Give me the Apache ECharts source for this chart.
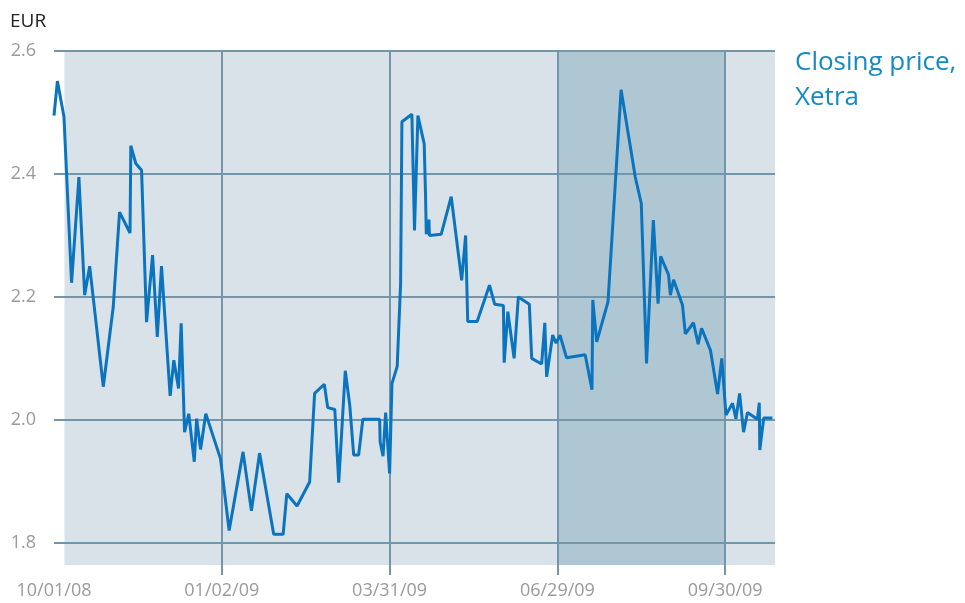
<!DOCTYPE html>
<html>
<head>
<meta charset="utf-8">
<script src="https://cdn.jsdelivr.net/npm/echarts@6/dist/echarts.min.js"></script>
<style>
  html, body { margin: 0; padding: 0; background: #fff; }
  #chart { width: 965px; height: 603px; }
</style>
</head>
<body>
<div id="chart"></div>
<script>
// trading-day index (64 per quarter) and Xetra closing prices in EUR
const dayIndex = [
  0, 1.3, 3.8, 6.7, 9.5, 11.7, 13.6, 18.8, 22.6, 25.0, 29.0, 29.3, 31.2, 33.4, 35.3, 37.6, 39.4, 41.0,
  44.3, 45.7, 47.5, 48.5, 49.8, 51.4, 53.5, 54.4, 55.9, 57.9, 63.5, 66.8, 72.1, 75.3, 78.4, 83.8, 87.4,
  88.8, 92.7, 97.5, 99.4, 103.1, 104.4, 107.1, 108.6, 111.1, 112.8, 114.3, 116.2, 117.8, 124.2, 124.4,
  125.5, 126.5, 128.0, 128.9, 130.9, 132.2, 132.7, 136.5, 137.5, 138.8, 141.2, 141.7, 142.0, 143.0,
  143.2, 147.7, 151.5, 155.5, 157.0, 157.8, 161.4, 166.1, 168.1, 171.4, 171.7, 173.1, 175.5, 177.1,
  181.3, 182.2, 186.0, 187.2, 187.9, 190.2, 191.5, 193.0, 195.5, 202.6, 205.2, 205.5, 207.0, 211.3,
  216.3, 221.7, 224.0, 226.0, 228.6, 230.4, 231.4, 234.4, 235.1, 236.3, 239.7, 240.8, 243.9, 245.7,
  247.0, 250.4, 253.1, 254.7, 256.3, 258.8, 260.1, 261.5, 263.0, 264.5, 268.3, 269.0, 269.2, 270.7, 274.0
];
const closingPrice = [
  2.495, 2.551, 2.493, 2.223, 2.395, 2.203, 2.250, 2.054, 2.184, 2.338, 2.304, 2.446, 2.417, 2.406, 2.159, 2.268, 2.135, 2.250,
  2.039, 2.097, 2.051, 2.157, 1.980, 2.010, 1.932, 2.002, 1.952, 2.010, 1.937, 1.820, 1.948, 1.852, 1.946, 1.814, 1.814,
  1.880, 1.860, 1.899, 2.043, 2.058, 2.020, 2.017, 1.898, 2.080, 2.024, 1.943, 1.943, 2.001, 2.001, 1.964,
  1.941, 2.012, 1.913, 2.059, 2.087, 2.222, 2.485, 2.497, 2.308, 2.495, 2.449, 2.367, 2.302, 2.326,
  2.300, 2.302, 2.363, 2.227, 2.300, 2.160, 2.160, 2.219, 2.188, 2.186, 2.093, 2.176, 2.100, 2.200,
  2.188, 2.100, 2.091, 2.158, 2.070, 2.138, 2.125, 2.138, 2.101, 2.106, 2.049, 2.195, 2.127, 2.192,
  2.537, 2.395, 2.352, 2.092, 2.325, 2.189, 2.266, 2.236, 2.203, 2.228, 2.187, 2.140, 2.158, 2.123,
  2.149, 2.113, 2.042, 2.100, 2.008, 2.027, 2.002, 2.043, 1.980, 2.012, 2.001, 2.028, 1.951, 2.003, 2.003
];
const xTickLabels = ["10/01/08", "01/02/09", "03/31/09", "06/29/09", "09/30/09"];
const xTickPos = [0, 64, 128, 192, 256];
const yTicks = [1.8, 2.0, 2.2, 2.4, 2.6];
const shadedRange = [192, 256]; // 06/29/09 - 09/30/09
const plotStart = 4;
const plotEnd = 275;
const yMin = 1.764;
const yMax = 2.6;

const gridColor = "#7397a9";
const chart = echarts.init(document.getElementById("chart"));

chart.setOption({
  animation: false,
  textStyle: { fontFamily: "Open Sans" },
  title: [
    {
      text: "EUR",
      left: 5,
      top: 7,
      textStyle: { fontSize: 19, fontWeight: "normal", color: "#222", fontFamily: "Open Sans" },
    },
    {
      text: "Closing price,\nXetra",
      left: 790,
      top: 40,
      textStyle: { fontSize: 26, lineHeight: 35, fontWeight: "normal", color: "#1589c3", fontFamily: "Open Sans" },
    },
  ],
  grid: { left: 54, right: 190, top: 51, bottom: 38 },
  xAxis: {
    type: "value",
    min: 0,
    max: plotEnd,
    interval: 64,
    axisLine: { show: false },
    axisTick: {
      show: true,
      length: 10,
      customValues: xTickPos.slice(1),
      lineStyle: { color: gridColor, width: 2 },
    },
    splitLine: { show: false },
    axisLabel: {
      customValues: xTickPos,
      margin: 17,
      fontSize: 18,
      color: "#9a9a9a",
      formatter: (v) => {
        const i = xTickPos.indexOf(v);
        return i >= 0 ? xTickLabels[i] : "";
      },
    },
  },
  yAxis: {
    type: "value",
    min: yMin,
    max: yMax,
    axisLine: { show: false },
    axisTick: { show: false },
    splitLine: { show: false },
    axisLabel: {
      customValues: yTicks,
      margin: 18,
      fontSize: 18,
      color: "#9a9a9a",
      formatter: (v) => v.toFixed(1),
    },
  },
  series: [
    {
      type: "line",
      z: 3,
      data: dayIndex.map((d, i) => [d, closingPrice[i]]),
      showSymbol: false,
      lineStyle: { color: "#0a74bf", width: 3 },
      markArea: {
        silent: true,
        z: 1,
        data: [
          [
            { xAxis: plotStart, yAxis: yMin, itemStyle: { color: "#d9e2e9" } },
            { xAxis: plotEnd, yAxis: yMax },
          ],
          [
            { xAxis: shadedRange[0], yAxis: yMin, itemStyle: { color: "#afc6d3" } },
            { xAxis: shadedRange[1], yAxis: yMax },
          ],
        ],
      },
      markLine: {
        silent: true,
        z: 2,
        symbol: "none",
        label: { show: false },
        lineStyle: { color: gridColor, width: 2, type: "solid" },
        data: yTicks
          .map((v) => ({ yAxis: v }))
          .concat(xTickPos.slice(1).map((v) => ({ xAxis: v }))),
      },
    },
  ],
});
</script>
</body>
</html>
